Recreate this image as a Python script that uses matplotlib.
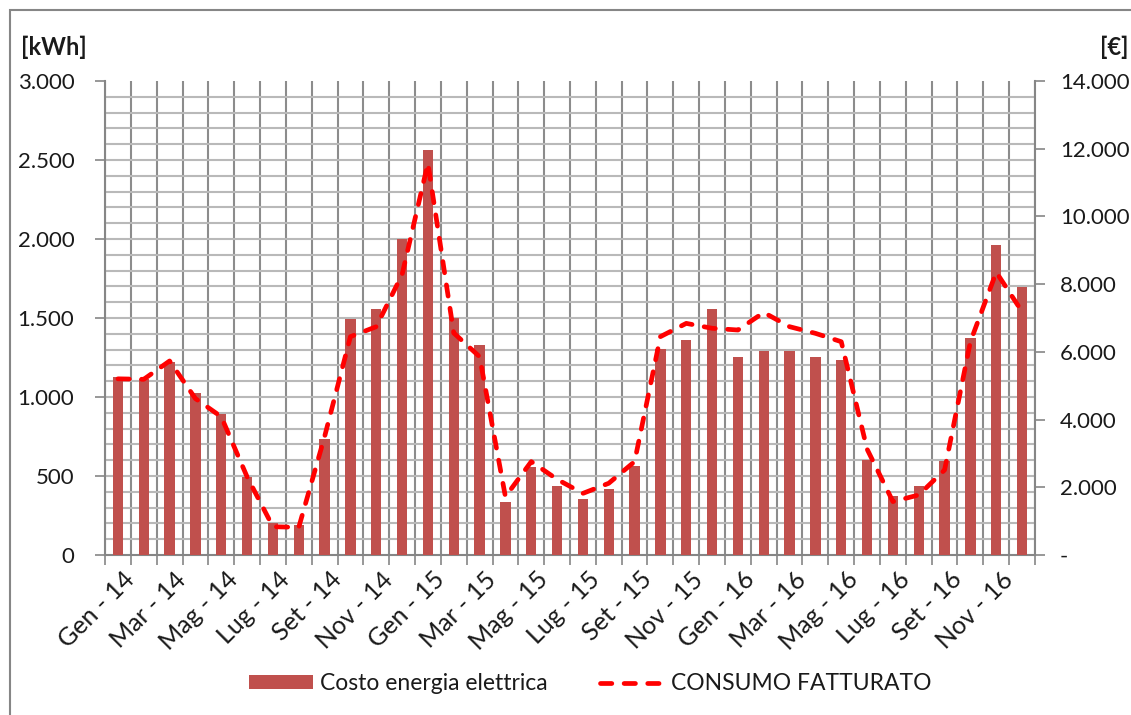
import numpy as np
import matplotlib
matplotlib.use("Agg")
import matplotlib.pyplot as plt
from matplotlib.ticker import FixedLocator, FuncFormatter
from matplotlib.patches import Rectangle
import matplotlib.transforms as mtransforms

plt.rcParams['font.family'] = ['Lato', 'DejaVu Sans']

mesi = ['Gen', 'Feb', 'Mar', 'Apr', 'Mag', 'Giu', 'Lug', 'Ago', 'Set', 'Ott', 'Nov', 'Dic']
anni = ['14', '15', '16']
etichette = [m + ' - ' + a for a in anni for m in mesi]

# costo energia elettrica [€] (barre, asse destro)
costo = [5270, 5190, 5710, 4775, 4165, 2295, 935, 885, 3415, 6960, 7275, 9320,
         11960, 7010, 6200, 1575, 2590, 2040, 1645, 1940, 2640, 6075, 6350, 7275,
         5855, 6030, 6025, 5850, 5750, 2805, 1745, 2040, 2775, 6420, 9155, 7905]
# consumo fatturato [kWh] (linea, asse sinistro)
consumo = [1115, 1112, 1228, 990, 875, 495, 179, 175, 749, 1382, 1445, 1775,
           2479, 1405, 1255, 369, 591, 479, 390, 454, 591, 1382, 1466, 1435,
           1424, 1535, 1445, 1403, 1350, 670, 338, 380, 538, 1350, 1790, 1540]

x = np.arange(len(etichette))
grigio = '#868686'
testo = '#1a1a1a'

fig = plt.figure(figsize=(11.31, 7.15), dpi=100)
pos = [105 / 1131, 1 - 555 / 715, (1035 - 105) / 1131, (555 - 81) / 715]
axb = fig.add_axes(pos)
axl = axb.twinx()

# barre sull'asse in euro
axb.bar(x, costo, width=0.4, color='#C0504D', zorder=3, label='Costo energia elettrica')
axb.set_ylim(0, 14000)
axb.set_xlim(-0.5, len(x) - 0.5)
axb.yaxis.tick_right()
axb.yaxis.set_major_locator(FixedLocator(np.arange(0, 14001, 2000)))
axb.yaxis.set_minor_locator(FixedLocator(np.linspace(0, 14000, 31)))
axb.yaxis.set_major_formatter(FuncFormatter(lambda v, p: '-' if v == 0 else f'{int(v):,}'.replace(',', '.')))
axb.tick_params(axis='y', which='major', direction='out', length=7, width=1.2, color=grigio,
                labelsize=16, labelcolor=testo, pad=11)
axb.tick_params(axis='y', which='minor', length=0)
axb.grid(False, which='major')
axb.grid(True, which='minor', axis='y', color='#b9b9b9', lw=1.5, zorder=0)

axb.xaxis.set_major_locator(FixedLocator(x[::2]))
axb.xaxis.set_minor_locator(FixedLocator(np.arange(-0.5, len(x), 1)))
axb.set_xticklabels(etichette[::2], rotation=45, ha='right', va='center', rotation_mode='anchor')
axb.tick_params(axis='x', which='major', length=0, labelsize=18, labelcolor=testo, pad=15)
axb.tick_params(axis='x', which='minor', direction='out', length=7, width=1.2, color=grigio)
axb.grid(True, which='minor', axis='x', color='#8c8c8c', lw=1.5, zorder=0)
axb.set_axisbelow(True)
sposta = mtransforms.ScaledTranslation(13 / 100, 0, fig.dpi_scale_trans)
for t in axb.get_xticklabels():
    t.set_transform(t.get_transform() + sposta)

for s in ['left', 'right', 'bottom']:
    axb.spines[s].set_color(grigio)
    axb.spines[s].set_linewidth(1.5)
axb.spines['top'].set_visible(False)

# linea sull'asse in kWh
axl.plot(x, consumo, color='#ff0000', lw=3.4, dashes=(2.4, 2.6), dash_capstyle='round',
         solid_joinstyle='round', label='CONSUMO FATTURATO', zorder=4)
axl.set_ylim(0, 3000)
axl.yaxis.tick_left()
axl.yaxis.set_major_locator(FixedLocator(np.arange(0, 3001, 500)))
axl.yaxis.set_major_formatter(FuncFormatter(lambda v, p: f'{int(v):,}'.replace(',', '.')))
axl.tick_params(axis='y', direction='out', length=7, width=1.2, color=grigio,
                labelsize=16, labelcolor=testo, pad=15)
for s in axl.spines.values():
    s.set_visible(False)

fig.text(54 / 1131, 1 - 47 / 715, '[kWh]', ha='center', va='center', fontsize=17,
         fontweight='bold', color=testo)
fig.text(1114 / 1131, 1 - 47 / 715, '[€]', ha='center', va='center', fontsize=17,
         fontweight='bold', color=testo)

h1, l1 = axb.get_legend_handles_labels()
h2, l2 = axl.get_legend_handles_labels()
fig.legend(h1 + h2, l1 + l2, loc='center', bbox_to_anchor=(590 / 1131, 1 - 684 / 715),
           ncol=2, frameon=False, fontsize=16.5, handlelength=2.8, handleheight=0.55,
           handletextpad=0.3, columnspacing=2.3, labelcolor=testo)

fig.add_artist(Rectangle((10 / 1131, -0.1), 2, 0.1 + 1 - 10 / 715, transform=fig.transFigure,
                         fill=False, ec=grigio, lw=1.5))

fig.savefig('out.png', dpi=100)
